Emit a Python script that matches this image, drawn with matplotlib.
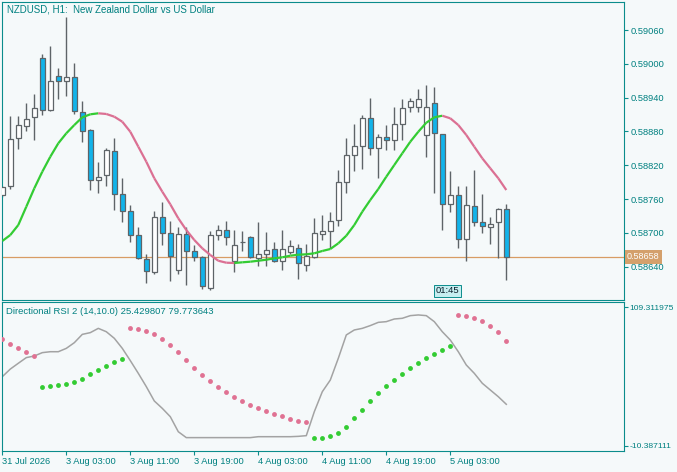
import numpy as np
import matplotlib.pyplot as plt
from matplotlib.collections import LineCollection
from matplotlib.transforms import blended_transform_factory

plt.rcParams['font.family'] = ['Liberation Sans', 'DejaVu Sans']

# NZDUSD H1, 31 Jul 19:00 .. 5 Aug 10:00
opens = [0.58767, 0.58783, 0.58868, 0.58889, 0.58905, 0.59010, 0.58918, 0.58978, 0.58969, 0.58976,
         0.58914, 0.58882, 0.58793, 0.58802, 0.58845, 0.58769, 0.58739, 0.58696, 0.58653, 0.58630,
         0.58729, 0.58699, 0.58634, 0.58698, 0.58667, 0.58657, 0.58603, 0.58696, 0.58706, 0.58650,
         0.58683, 0.58692, 0.58655, 0.58662, 0.58671, 0.58651, 0.58666, 0.58674, 0.58643, 0.58657,
         0.58698, 0.58703, 0.58722, 0.58790, 0.58839, 0.58854, 0.58903, 0.58850, 0.58871, 0.58864,
         0.58894, 0.58923, 0.58923, 0.58873, 0.58930, 0.58875, 0.58751, 0.58767, 0.58690, 0.58747,
         0.58719, 0.58710, 0.58719, 0.58742]
highs = [0.58784, 0.58907, 0.58907, 0.58931, 0.58946, 0.59018, 0.59032, 0.58993, 0.59083, 0.59001,
         0.58934, 0.58884, 0.58826, 0.58851, 0.58868, 0.58797, 0.58750, 0.58710, 0.58663, 0.58739,
         0.58754, 0.58721, 0.58710, 0.58710, 0.58678, 0.58659, 0.58703, 0.58714, 0.58721, 0.58705,
         0.58703, 0.58695, 0.58719, 0.58702, 0.58684, 0.58706, 0.58687, 0.58680, 0.58680, 0.58726,
         0.58731, 0.58737, 0.58811, 0.58868, 0.58893, 0.58909, 0.58939, 0.58875, 0.58891, 0.58923,
         0.58937, 0.58939, 0.58955, 0.58962, 0.58958, 0.58876, 0.58809, 0.58783, 0.58783, 0.58811,
         0.58769, 0.58728, 0.58744, 0.58751]
lows = [0.58764, 0.58778, 0.58848, 0.58880, 0.58865, 0.58910, 0.58917, 0.58938, 0.58943, 0.58911,
        0.58862, 0.58777, 0.58770, 0.58784, 0.58741, 0.58720, 0.58683, 0.58654, 0.58611, 0.58627,
        0.58678, 0.58614, 0.58627, 0.58608, 0.58650, 0.58600, 0.58598, 0.58687, 0.58678, 0.58630,
        0.58667, 0.58655, 0.58642, 0.58641, 0.58648, 0.58635, 0.58662, 0.58618, 0.58632, 0.58656,
        0.58687, 0.58673, 0.58712, 0.58770, 0.58809, 0.58813, 0.58838, 0.58797, 0.58847, 0.58847,
        0.58865, 0.58914, 0.58914, 0.58834, 0.58770, 0.58706, 0.58737, 0.58673, 0.58651, 0.58712,
        0.58699, 0.58680, 0.58655, 0.58616]
closes = [0.58781, 0.58866, 0.58891, 0.58902, 0.58921, 0.58918, 0.58970, 0.58969, 0.58976, 0.58916,
          0.58880, 0.58793, 0.58800, 0.58847, 0.58769, 0.58738, 0.58696, 0.58655, 0.58632, 0.58729,
          0.58699, 0.58659, 0.58698, 0.58667, 0.58657, 0.58605, 0.58696, 0.58705, 0.58692, 0.58678,
          0.58684, 0.58657, 0.58662, 0.58669, 0.58651, 0.58671, 0.58676, 0.58646, 0.58659, 0.58699,
          0.58703, 0.58721, 0.58790, 0.58839, 0.58855, 0.58903, 0.58850, 0.58871, 0.58864, 0.58894,
          0.58921, 0.58934, 0.58937, 0.58923, 0.58877, 0.58751, 0.58767, 0.58690, 0.58749, 0.58719,
          0.58712, 0.58715, 0.58742, 0.58658]

ma = [0.586856, 0.586962, 0.587140, 0.587465, 0.587791, 0.588086, 0.588352, 0.588590, 0.588767, 0.588914,
      0.589051, 0.589104, 0.589122, 0.589110, 0.589062, 0.588973, 0.588795, 0.588530, 0.588263, 0.587969,
      0.587731, 0.587507, 0.587259, 0.587051, 0.586874, 0.586726, 0.586608, 0.586506, 0.586471, 0.586466,
      0.586478, 0.586489, 0.586506, 0.586524, 0.586549, 0.586567, 0.586595, 0.586613, 0.586620, 0.586638,
      0.586679, 0.586714, 0.586815, 0.586950, 0.587140, 0.587376, 0.587584, 0.587779, 0.587997, 0.588205,
      0.588412, 0.588618, 0.588795, 0.588955, 0.589051, 0.589079, 0.589033, 0.588914, 0.588737, 0.588529,
      0.588323, 0.588146, 0.587969, 0.587761]

rsi = [49.3, 55.9, 60.9, 65.8, 67.2, 70.1, 70.9, 70.9, 73.8, 78.7,
       85.9, 87.4, 91.1, 88.2, 82.5, 73.8, 63.2, 52.2, 40.7, 28.3,
       21.9, 14.7, 1.7, -3.4, -3.4, -3.4, -3.4, -3.4, -3.4, -3.4,
       -3.4, -3.4, -2.6, -2.6, -2.6, -2.6, -2.6, -2.3, -1.7, 19.0,
       36.3, 46.4, 65.2, 85.4, 89.7, 91.1, 93.5, 96.3, 96.9, 99.2,
       99.8, 102.1, 102.7, 102.1, 96.9, 88.2, 81.0, 70.9, 59.4, 52.2,
       43.6, 37.8, 32.0, 25.43]

N = None
dots_up = [N, N, N, N, N, 40.1, 41.0, 41.8, 42.7, 44.4,
           47.0, 51.3, 54.8, 58.3, 61.7, 64.6, N, N, N, N,
           N, N, N, N, N, N, N, N, N, N,
           N, N, N, N, N, N, N, N, N, -4.0,
           -4.0, -2.3, 0.6, 5.5, 13.3, 20.8, 28.0, 34.9, 41.0, 46.4,
           51.3, 56.8, 60.8, 65.2, 68.6, 72.1, 75.8, N, N, N,
           N, N, N, N]
dots_dn = [81.6, 77.3, 73.8, 70.4, 66.9, N, N, N, N, N,
           N, N, N, N, N, N, 91.1, 90.3, 88.5, 85.9,
           81.6, 76.4, 70.4, 63.5, 56.5, 50.5, 45.3, 40.4, 35.7, 31.5,
           28.0, 24.5, 21.9, 19.3, 16.7, 15.0, 13.0, 11.3, 9.8, N,
           N, N, N, N, N, N, N, N, N, N,
           N, N, N, N, N, N, N, 102.4, 101.5, 99.8,
           97.2, 92.9, 87.7, 79.77]

price_ticks = [0.59060, 0.59000, 0.58940, 0.58880, 0.58820, 0.58760, 0.58700, 0.58640]
rsi_ticks = [109.311975, -10.387111]
time_ticks = [0, 8, 16, 24, 32, 40, 48, 56]
time_labels = ['31 Jul 2026', '3 Aug 03:00', '3 Aug 11:00', '3 Aug 19:00',
               '4 Aug 03:00', '4 Aug 11:00', '4 Aug 19:00', '5 Aug 03:00']
last_price = 0.58658
timer = '01:45'

bg = '#F5F9FA'
teal = '#008080'
frame = '#0B8C8C'
wick = '#5E6468'
bear = '#12B3EA'
up_col = '#33CC33'
dn_col = '#DB7093'

W, H = 677, 472
fig = plt.figure(figsize=(W / 100, H / 100), dpi=100, facecolor=bg)
x0, x1 = 2.3, 624
ax1 = fig.add_axes([x0 / W, 1 - 300.3 / H, (x1 - x0) / W, 298.3 / H], facecolor=bg)
ax2 = fig.add_axes([x0 / W, 1 - 450.7 / H, (x1 - x0) / W, 148.4 / H], facecolor=bg)

x = np.arange(len(opens))
o = np.array(opens); c = np.array(closes)

# candles
ax1.vlines(x, lows, highs, color=wick, lw=1.0, zorder=2)
fills = [bear if cc < oo else '#FFFFFF' for oo, cc in zip(o, c)]
ax1.bar(x, np.maximum(np.abs(c - o), 0.000004), bottom=np.minimum(o, c), width=0.6,
        color=fills, edgecolor=wick, linewidth=0.9, zorder=3)

# trend line, coloured by direction
m = np.array(ma)
segs = [[(x[i], m[i]), (x[i + 1], m[i + 1])] for i in range(len(m) - 1)]
cols = [up_col if m[i + 1] >= m[i] else dn_col for i in range(len(m) - 1)]
ax1.add_collection(LineCollection(segs, colors=cols, linewidths=1.6, zorder=4))

ax1.axhline(last_price, color='#D89C64', lw=0.9, zorder=1)
tr = blended_transform_factory(ax1.transAxes, ax1.transData)
ax1.text(1.005, last_price, '%.5f' % last_price, transform=tr, fontsize=6.5, color='white',
         va='center', ha='left', bbox=dict(boxstyle='square,pad=0.28', fc='#D4A06C', ec='none'))
ax1.text(54.2, 0.017, timer, transform=blended_transform_factory(ax1.transData, ax1.transAxes),
         fontsize=6.8, color='#0A1E2A', va='bottom', ha='left',
         bbox=dict(boxstyle='square,pad=0.15', fc='#C6EEF0', ec=frame, lw=0.7))

ax1.set_xlim(0, (x1 - x0) / 8)
ax1.set_ylim(0.585804, 0.591097)
ax1.yaxis.tick_right()
ax1.set_yticks(price_ticks, ['%.5f' % p for p in price_ticks])
ax1.set_xticks([])
ax1.text(6.7 / W, 1 - 10 / H, 'NZDUSD, H1:  New Zealand Dollar vs US Dollar',
         transform=fig.transFigure, fontsize=7, color=teal, va='center')

# Directional RSI panel
ax2.plot(x, rsi, color='#A3A3A3', lw=1.1, zorder=2)
up = np.array(dots_up, dtype=float)
dn = np.array(dots_dn, dtype=float)
ax2.plot(x, up, 'o', color=up_col, ms=3.5, mew=0, zorder=3)
ax2.plot(x, dn, 'o', color='#E07293', ms=3.5, mew=0, zorder=3)
ax2.set_xlim(0, (x1 - x0) / 8)
ax2.set_ylim(-14.71, 113.64)
ax2.yaxis.tick_right()
ax2.set_yticks(rsi_ticks, ['%.6f' % v for v in rsi_ticks])
ax2.set_xticks(time_ticks, time_labels)
for lbl in ax2.get_xticklabels():
    lbl.set_ha('left')
ax2.text(6 / W, 1 - 311 / H, 'Directional RSI 2 (14,10.0) 25.429807 79.773643',
         transform=fig.transFigure, fontsize=6.8, color=teal, va='center')

for ax in (ax1, ax2):
    for s in ax.spines.values():
        s.set_color(frame)
        s.set_linewidth(0.8)
    ax.tick_params(colors=frame, labelcolor=teal, labelsize=6.7, length=3, width=0.8, pad=1.5)
ax2.tick_params(axis='y', labelsize=6.1, pad=1.2)

fig.savefig('out.png', dpi=100, facecolor=bg)
